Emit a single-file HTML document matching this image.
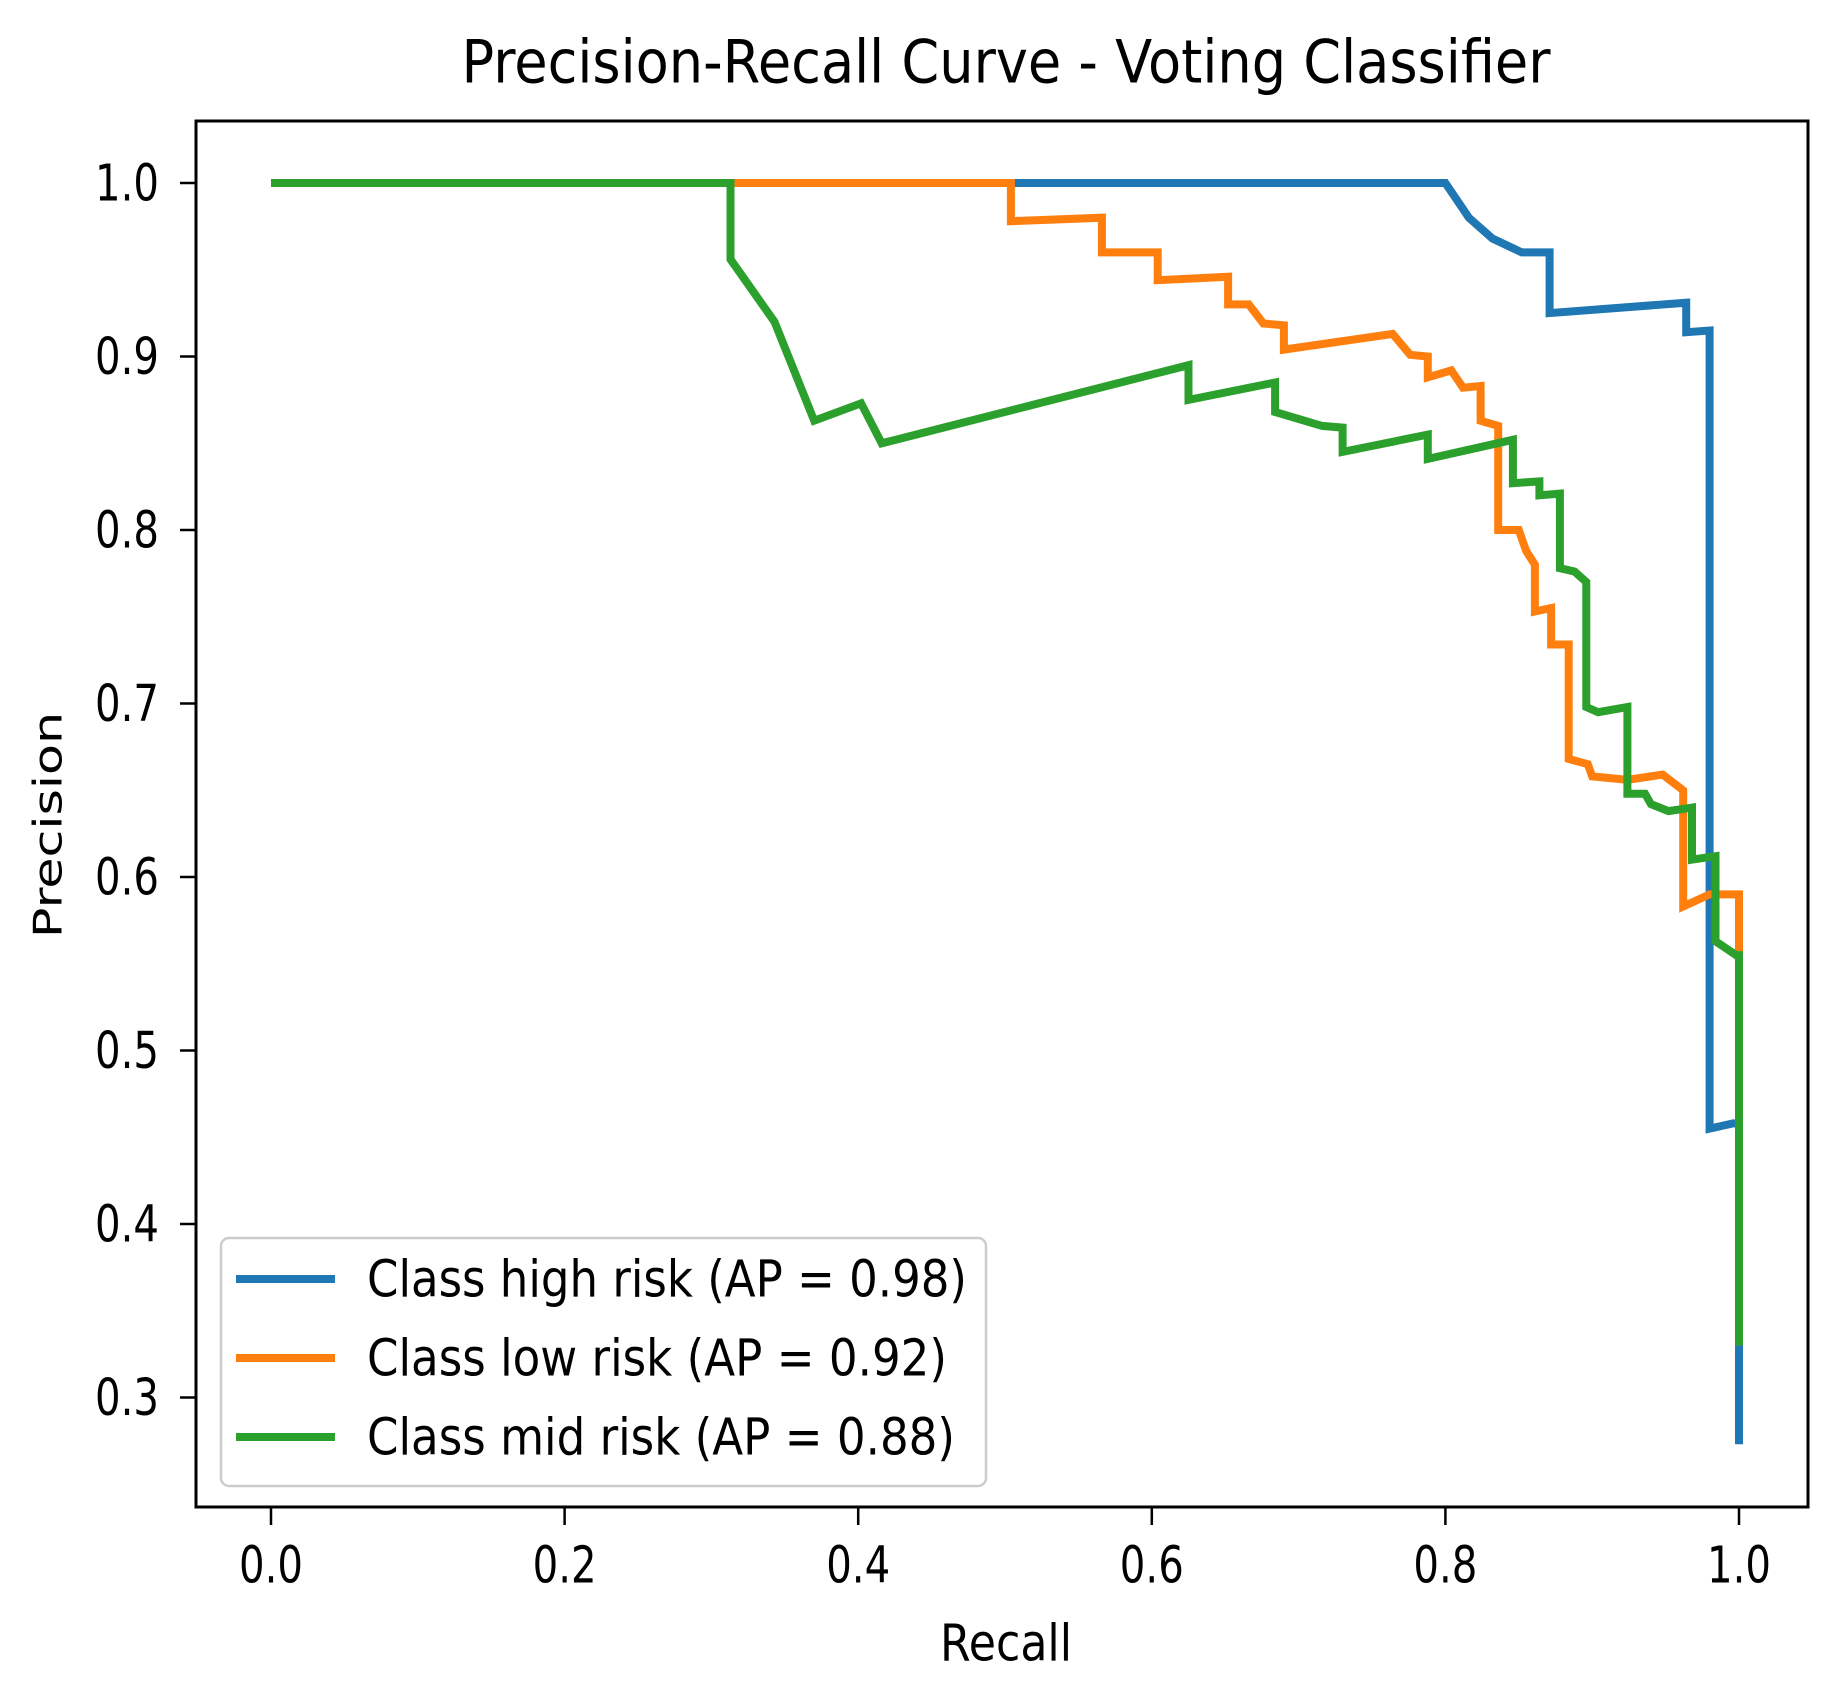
<!DOCTYPE html>
<html><head><meta charset="utf-8"><style>
html,body{margin:0;padding:0;background:#fff;}
svg{display:block;}
text{font-family:"DejaVu Sans","Liberation Sans",sans-serif;fill:#000;}
</style></head><body>
<svg id="chart" width="1839" height="1694" viewBox="0 0 1839 1694" xmlns="http://www.w3.org/2000/svg">
<rect x="0" y="0" width="1839" height="1694" fill="#fff"/>
<g id="plot"></g>
</svg>
<script>
const xTicks=[0,0.2,0.4,0.6,0.8,1.0];
const xTickLabels=["0.0","0.2","0.4","0.6","0.8","1.0"];
const yTicks=[0.3,0.4,0.5,0.6,0.7,0.8,0.9,1.0];
const yTickLabels=["0.3","0.4","0.5","0.6","0.7","0.8","0.9","1.0"];
const seriesNames=["Class high risk (AP = 0.98)","Class low risk (AP = 0.92)","Class mid risk (AP = 0.88)"];
const highRecall=[0,0.8,0.816,0.832,0.852,0.871,0.871,0.964,0.964,0.98,0.98,0.996,1.0,1.0];
const highPrec=[1,1,0.98,0.968,0.96,0.96,0.925,0.931,0.914,0.915,0.455,0.458,0.458,0.273];
const lowRecall=[0,0.504,0.504,0.566,0.566,0.604,0.604,0.652,0.652,0.666,0.676,0.69,0.69,0.764,0.776,0.788,0.788,0.804,0.812,0.824,0.824,0.836,0.836,0.85,0.855,0.861,0.861,0.872,0.872,0.884,0.884,0.897,0.9,0.924,0.948,0.962,0.962,0.98,1.0,1.0];
const lowPrec=[1,1,0.978,0.98,0.96,0.96,0.944,0.946,0.93,0.93,0.919,0.918,0.904,0.913,0.901,0.9,0.888,0.892,0.882,0.883,0.863,0.86,0.8,0.8,0.788,0.78,0.753,0.755,0.734,0.734,0.668,0.665,0.658,0.656,0.659,0.65,0.583,0.59,0.59,0.33];
const midRecall=[0,0.313,0.313,0.343,0.37,0.402,0.416,0.625,0.625,0.684,0.684,0.716,0.73,0.73,0.788,0.788,0.846,0.846,0.864,0.864,0.878,0.878,0.888,0.896,0.896,0.904,0.924,0.924,0.936,0.94,0.952,0.968,0.968,0.984,0.984,0.998,1.0,1.0];
const midPrec=[1,1,0.956,0.92,0.863,0.873,0.85,0.895,0.875,0.885,0.868,0.86,0.859,0.845,0.855,0.841,0.852,0.827,0.828,0.82,0.821,0.778,0.776,0.77,0.698,0.695,0.698,0.648,0.648,0.642,0.638,0.64,0.61,0.612,0.563,0.555,0.555,0.33];
const colors=["#1f77b4","#ff7f0e","#2ca02c"];

const NS="http://www.w3.org/2000/svg";
const g=document.getElementById('plot');
const X0=271,XW=1468,Y1=183,YS=1735;
function xs(v){return X0+v*XW;}
function ys(v){return Y1+(1-v)*YS;}
const SY=1.3;
function mk(tag,attrs,parent){const e=document.createElementNS(NS,tag);for(const k in attrs)e.setAttribute(k,attrs[k]);(parent||g).appendChild(e);return e;}
function txt(str,x,y,size,anchor,rot,len){
  const a={'font-size':size,'text-anchor':anchor,'dominant-baseline':'central',
    transform:'translate('+x+','+y+')'+(rot?' rotate(-90)':'')+(rot?' scale('+SY+',1)':' scale(1,'+SY+')')};
  if(len){a.textLength=len;a.lengthAdjust='spacingAndGlyphs';}
  const t=mk('text',a);
  t.textContent=str;return t;
}
let t=txt("Precision-Recall Curve - Voting Classifier",1006,62,46,'middle',false,1089);


const sets=[[highRecall,highPrec],[lowRecall,lowPrec],[midRecall,midPrec]];
const names=['series-high-risk','series-low-risk','series-mid-risk'];
sets.forEach((s,i)=>{
  const pts=s[0].map((r,j)=>xs(r).toFixed(1)+','+ys(s[1][j]).toFixed(1)).join(' ');
  const p=mk('polyline',{points:pts,fill:'none',stroke:colors[i],'stroke-width':8,'stroke-linejoin':'miter','stroke-linecap':'butt'});
  
  
});
const fr=mk('rect',{x:196,y:121,width:1612,height:1386,fill:'none',stroke:'#000','stroke-width':3});


xTicks.forEach((v,i)=>{
  const l=mk('line',{x1:xs(v),x2:xs(v),y1:1507,y2:1525,stroke:'#000','stroke-width':2.5});
  
  
  const tt=txt(xTickLabels[i],xs(v),1565,39,'middle',false,64);
  
  
});
yTicks.forEach((v,i)=>{
  const l=mk('line',{x1:180,x2:196,y1:ys(v),y2:ys(v),stroke:'#000','stroke-width':2.5});
  
  
  const tt=txt(yTickLabels[i],159,ys(v),39,'end',false,64);
  
  
});
t=txt("Recall",1006,1643,39,'middle',false,132);


t=txt("Precision",48,825,39,'middle',true);


const lg=mk('rect',{x:221,y:1238,width:765,height:248,rx:8,ry:8,fill:'rgba(255,255,255,0.8)',stroke:'#ccc','stroke-width':2.5});


const ly=[1279,1358,1437];
const lens=[600,580,588];
seriesNames.forEach((n,i)=>{
  const l=mk('line',{x1:236,x2:335,y1:ly[i],y2:ly[i],stroke:colors[i],'stroke-width':8});
  
  
  const tt=txt(n,367,ly[i],39,'start',false,lens[i]);
  
  
});
</script>
</body></html>
